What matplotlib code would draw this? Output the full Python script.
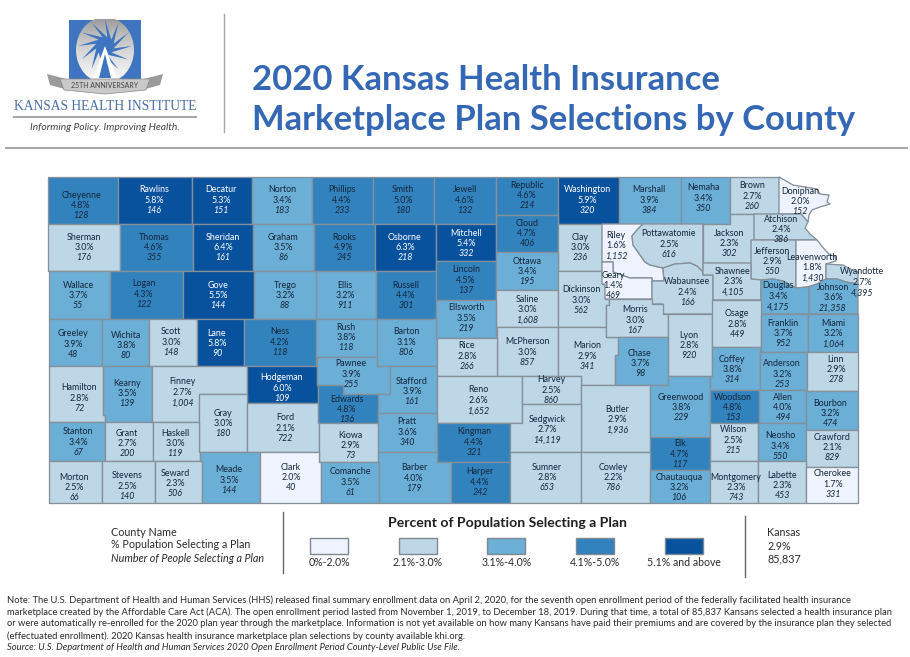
# -*- coding: UTF-8 -*-
import numpy as np
import matplotlib
matplotlib.use('Agg')
import matplotlib.pyplot as plt
from matplotlib.collections import PolyCollection
from matplotlib.patches import Ellipse, Polygon, Rectangle

plt.rcParams['font.family'] = ['Lato', 'DejaVu Sans']

# county data
counties = ['Cheyenne', 'Rawlins', 'Decatur', 'Norton', 'Phillips', 'Smith', 'Jewell', 'Republic', 'Washington',
            'Marshall', 'Nemaha', 'Brown', 'Doniphan', 'Sherman', 'Thomas', 'Sheridan', 'Graham', 'Rooks', 'Osborne',
            'Mitchell', 'Cloud', 'Clay', 'Riley', 'Pottawatomie', 'Jackson', 'Atchison', 'Jefferson', 'Leavenworth',
            'Wyandotte', 'Wallace', 'Logan', 'Gove', 'Trego', 'Ellis', 'Russell', 'Lincoln', 'Ottawa', 'Saline',
            'Dickinson', 'Geary', 'Wabaunsee', 'Shawnee', 'Douglas', 'Johnson', 'Greeley', 'Wichita', 'Scott', 'Lane',
            'Ness', 'Rush', 'Barton', 'Ellsworth', 'McPherson', 'Marion', 'Morris', 'Lyon', 'Osage', 'Franklin',
            'Miami', 'Hamilton', 'Kearny', 'Finney', 'Hodgeman', 'Pawnee', 'Stafford', 'Rice', 'Reno', 'Harvey',
            'Chase', 'Butler', 'Greenwood', 'Coffey', 'Anderson', 'Linn', 'Gray', 'Ford', 'Edwards', 'Kiowa', 'Pratt',
            'Kingman', 'Sedgwick', 'Woodson', 'Allen', 'Bourbon', 'Wilson', 'Neosho', 'Crawford', 'Elk', 'Stanton',
            'Grant', 'Haskell', 'Morton', 'Stevens', 'Seward', 'Meade', 'Clark', 'Comanche', 'Barber', 'Harper',
            'Sumner', 'Cowley', 'Chautauqua', 'Montgomery', 'Labette', 'Cherokee']
percents = [4.8, 5.8, 5.3, 3.4, 4.4, 5.0, 4.6, 4.6, 5.9,
            3.9, 3.4, 2.7, 2.0, 3.0, 4.6, 6.4, 3.5, 4.9, 6.3,
            5.4, 4.7, 3.0, 1.6, 2.5, 2.3, 2.4, 2.9, 1.8,
            2.7, 3.7, 4.3, 5.5, 3.2, 3.2, 4.4, 4.5, 3.4, 3.0,
            3.0, 1.4, 2.4, 2.3, 3.4, 3.6, 3.9, 3.8, 3.0, 5.8,
            4.2, 3.8, 3.1, 3.5, 3.0, 2.9, 3.0, 2.8, 2.8, 3.7,
            3.2, 2.8, 3.5, 2.7, 6.0, 3.9, 3.9, 2.8, 2.6, 2.5,
            3.7, 2.9, 3.8, 3.8, 3.2, 2.9, 3.0, 2.1, 4.8, 2.9, 3.6,
            4.4, 2.7, 4.8, 4.0, 3.2, 2.5, 3.4, 2.1, 4.7, 3.4,
            2.7, 3.0, 2.5, 2.5, 2.3, 3.5, 2.0, 3.5, 4.0, 4.4,
            2.8, 2.2, 3.2, 2.3, 2.3, 1.7]
people = [128, 146, 151, 183, 233, 180, 132, 214, 320,
          384, 350, 260, 152, 176, 355, 161, 86, 245, 218,
          332, 406, 236, 1152, 616, 302, 386, 550, 1430,
          4395, 55, 122, 144, 88, 911, 301, 137, 195, 1608,
          562, 469, 166, 4105, 4175, 21358, 48, 80, 148, 90,
          118, 118, 806, 219, 857, 341, 167, 920, 449, 952,
          1064, 72, 139, 1004, 109, 255, 161, 266, 1652, 860,
          98, 1936, 229, 314, 253, 278, 180, 722, 136, 73, 340,
          321, 14119, 153, 494, 474, 215, 550, 829, 117, 67,
          200, 119, 66, 140, 506, 144, 40, 61, 179, 242,
          653, 786, 106, 743, 453, 331]

bin_edges = [2.05, 3.05, 4.05, 5.05]
bin_colors = ['#eff3ff', '#bdd7e7', '#6baed6', '#3182bd', '#08519c']
bin_labels = ['0%-2.0%', '2.1%-3.0%', '3.1%-4.0%', '4.1%-5.0%', '5.1% and above']
state_summary = ['Kansas', '2.9%', '85,837']
key_lines = ['County Name', '% Population Selecting a Plan', 'Number of People Selecting a Plan']

title_lines = ['2020 Kansas Health Insurance', 'Marketplace Plan Selections by County']
note_lines = [
    'Note: The U.S. Department of Health and Human Services (HHS) released final summary enrollment data on April 2, 2020, for the seventh open enrollment period of the federally facilitated health insurance',
    'marketplace created by the Affordable Care Act (ACA). The open enrollment period lasted from November 1, 2019, to December 18, 2019. During that time, a total of 85,837 Kansans selected a health insurance plan',
    'or were automatically re-enrolled for the 2020 plan year through the marketplace. Information is not yet available on how many Kansans have paid their premiums and are covered by the insurance plan they selected',
    '(effectuated enrollment). 2020 Kansas health insurance marketplace plan selections by county available khi.org.',
]
source_line = 'Source: U.S. Department of Health and Human Services 2020 Open Enrollment Period County-Level Public Use File.'


def box(x0, y0, x1, y1):
    return [(x0, y0), (x1, y0), (x1, y1), (x0, y1)]


# county outlines, in image pixels
outlines = {
    'Cheyenne': box(48, 177, 118, 224), 'Rawlins': box(118, 177, 192, 224), 'Decatur': box(192, 177, 252, 224),
    'Norton': box(252, 177, 312, 224), 'Phillips': box(312, 177, 373, 224), 'Smith': box(373, 177, 434, 224),
    'Jewell': box(434, 177, 496, 224), 'Republic': box(496, 177, 558, 215), 'Washington': box(558, 177, 619, 224),
    'Marshall': box(619, 177, 681, 224), 'Nemaha': box(681, 177, 730, 224), 'Brown': box(730, 177, 779, 214),
    'Doniphan': [(779, 177), (793, 185), (805, 187), (817, 189), (820, 194), (829, 195), (827, 202), (830, 204),
                 (820, 207), (812, 210), (809, 215), (808, 222), (801, 214), (779, 214)],
    'Sherman': box(48, 224, 120, 271), 'Thomas': box(120, 224, 193, 271), 'Sheridan': box(193, 224, 253, 271),
    'Graham': box(253, 224, 314, 271), 'Rooks': box(314, 224, 375, 271), 'Osborne': box(375, 224, 436, 271),
    'Mitchell': box(436, 224, 496, 261),
    'Cloud': [(496, 215), (558, 215), (558, 252), (496, 252)],
    'Clay': box(558, 224, 602, 271),
    'Riley': [(602, 224), (643, 224), (637, 230), (632, 236), (633, 245), (645, 262), (650, 265), (663, 268),
              (664, 281), (652, 281), (652, 278), (630, 278), (613, 272), (613, 262), (602, 262)],
    'Pottawatomie': [(643, 224), (703, 224), (703, 272), (697, 266), (690, 263), (675, 264), (663, 268), (650, 265),
                     (645, 262), (633, 245), (632, 236), (637, 230)],
    'Jackson': [(703, 224), (730, 224), (730, 214), (754, 214), (754, 240), (751, 240), (751, 263), (703, 263)],
    'Atchison': [(754, 214), (801, 214), (808, 222), (805, 228), (810, 234), (817, 240), (754, 240)],
    'Jefferson': [(751, 240), (796, 240), (796, 288), (783, 281), (773, 279), (761, 280), (751, 279)],
    'Leavenworth': [(796, 240), (817, 240), (825, 250), (830, 255), (835, 256), (836, 261), (826, 264), (826, 279),
                    (817, 284), (807, 287), (796, 288)],
    'Wyandotte': [(826, 264), (843, 265), (852, 270), (858, 272), (858, 284), (846, 282), (837, 279), (826, 279)],
    'Wallace': box(49, 271, 110, 319), 'Logan': box(110, 271, 183, 319), 'Gove': box(183, 271, 254, 319),
    'Trego': box(254, 271, 316, 319), 'Ellis': box(316, 271, 376, 319), 'Russell': box(376, 271, 436, 319),
    'Lincoln': box(436, 261, 496, 300), 'Ottawa': box(496, 252, 558, 290), 'Saline': box(496, 290, 558, 327),
    'Dickinson': [(558, 271), (602, 271), (602, 284), (605, 284), (605, 299), (609, 299), (609, 305), (606, 305),
                  (606, 327), (558, 327)],
    'Geary': [(602, 262), (613, 262), (613, 272), (630, 278), (652, 278), (652, 299), (605, 299), (605, 284),
              (602, 284)],
    'Wabaunsee': [(652, 281), (664, 281), (663, 268), (675, 264), (690, 263), (697, 266), (703, 272), (703, 275),
                  (713, 275), (713, 314), (663, 314), (663, 304), (652, 304)],
    'Shawnee': [(703, 263), (751, 263), (751, 279), (761, 280), (761, 300), (713, 300), (713, 275), (703, 275)],
    'Douglas': [(761, 280), (773, 279), (783, 281), (796, 288), (809, 287), (809, 314), (761, 314)],
    'Johnson': [(809, 287), (817, 284), (826, 279), (837, 279), (846, 282), (858, 284), (858, 314), (809, 314)],
    'Greeley': box(49, 319, 102, 366), 'Wichita': box(102, 319, 149, 366), 'Scott': box(149, 319, 197, 366),
    'Lane': box(197, 319, 244, 366), 'Ness': box(244, 319, 316, 366), 'Rush': box(316, 319, 377, 357),
    'Barton': [(377, 319), (436, 319), (436, 338), (437, 338), (437, 366), (377, 366)],
    'Ellsworth': box(436, 300, 496, 338),
    'McPherson': box(497, 327, 558, 376),
    'Marion': [(558, 327), (606, 327), (606, 337), (618, 337), (618, 355), (615, 355), (615, 385), (581, 385),
               (581, 376), (558, 376)],
    'Morris': [(609, 299), (652, 299), (652, 304), (663, 304), (663, 314), (668, 314), (668, 337), (606, 337),
               (606, 305), (609, 305)],
    'Lyon': box(668, 314, 712, 376), 'Osage': box(712, 300, 761, 347), 'Franklin': box(761, 314, 808, 352),
    'Miami': box(808, 314, 858, 352),
    'Hamilton': [(49, 366), (103, 366), (103, 415), (105, 415), (105, 422), (49, 422)],
    'Kearny': [(103, 366), (152, 366), (152, 422), (105, 422), (105, 415), (103, 415)],
    'Finney': [(152, 366), (247, 366), (247, 394), (199, 394), (199, 422), (152, 422)],
    'Hodgeman': [(247, 366), (317, 366), (317, 385), (318, 385), (318, 403), (247, 403)],
    'Pawnee': [(317, 357), (377, 357), (377, 366), (390, 366), (390, 394), (343, 394), (343, 385), (317, 385)],
    'Stafford': [(390, 366), (437, 366), (437, 413), (378, 413), (378, 394), (390, 394)],
    'Rice': box(437, 338, 497, 376), 'Reno': box(437, 376, 522, 423), 'Harvey': box(522, 376, 581, 404),
    'Chase': [(618, 337), (668, 337), (668, 385), (615, 385), (615, 355), (618, 355)],
    'Butler': box(581, 385, 650, 452),
    'Greenwood': [(668, 376), (710, 376), (710, 437), (650, 437), (650, 385), (668, 385)],
    'Coffey': [(712, 347), (760, 347), (760, 390), (710, 390), (710, 376), (712, 376)],
    'Anderson': box(760, 352, 807, 390), 'Linn': box(807, 352, 858, 391),
    'Gray': box(199, 394, 247, 452),
    'Ford': [(247, 403), (318, 403), (318, 423), (319, 423), (319, 452), (247, 452)],
    'Edwards': [(318, 385), (343, 385), (343, 394), (378, 394), (378, 423), (318, 423)],
    'Kiowa': box(319, 423, 378, 462), 'Pratt': box(378, 413, 437, 452), 'Kingman': box(437, 423, 510, 462),
    'Sedgwick': [(522, 404), (581, 404), (581, 452), (510, 452), (510, 423), (522, 423)],
    'Woodson': box(710, 390, 759, 423), 'Allen': box(759, 390, 806, 423), 'Bourbon': box(806, 391, 858, 430),
    'Wilson': box(710, 423, 758, 461), 'Neosho': box(758, 423, 806, 461), 'Crawford': box(806, 430, 858, 467),
    'Elk': box(650, 437, 710, 470),
    'Stanton': box(49, 422, 105, 461), 'Grant': box(105, 422, 153, 461),
    'Haskell': [(153, 422), (199, 422), (199, 452), (200, 452), (200, 461), (153, 461)],
    'Morton': box(49, 461, 102, 503), 'Stevens': box(102, 461, 155, 503), 'Seward': box(155, 461, 202, 503),
    'Meade': [(200, 452), (260, 452), (260, 503), (202, 503), (202, 461), (200, 461)],
    'Clark': [(260, 452), (319, 452), (319, 462), (321, 462), (321, 503), (260, 503)],
    'Comanche': box(321, 462, 379, 503),
    'Barber': [(378, 452), (437, 452), (437, 462), (451, 462), (451, 503), (379, 503), (379, 462), (378, 462)],
    'Harper': box(451, 462, 510, 503), 'Sumner': box(510, 452, 581, 503), 'Cowley': box(581, 452, 650, 503),
    'Chautauqua': box(650, 470, 710, 503), 'Montgomery': box(710, 461, 758, 503), 'Labette': box(758, 461, 806, 503),
    'Cherokee': box(806, 467, 858, 503),
}

# where each three line label starts: centre x, y of the county name
label_pos = {
    'Cheyenne': (81, 195), 'Rawlins': (154, 190), 'Decatur': (221, 190), 'Norton': (282, 190), 'Phillips': (342, 190),
    'Smith': (403, 190), 'Jewell': (465, 190), 'Republic': (527, 185), 'Washington': (587, 190),
    'Marshall': (649, 190), 'Nemaha': (703, 188), 'Brown': (752, 186), 'Doniphan': (800, 191),
    'Sherman': (84, 237), 'Thomas': (154, 237), 'Sheridan': (223, 237), 'Graham': (283, 237), 'Rooks': (344, 237),
    'Osborne': (405, 237), 'Mitchell': (466, 233), 'Cloud': (527, 223), 'Clay': (580, 237), 'Riley': (616, 235),
    'Pottawatomie': (669, 234), 'Jackson': (729, 233), 'Atchison': (781, 219), 'Jefferson': (772, 251),
    'Leavenworth': (812, 257), 'Wyandotte': (862, 272), 'Wallace': (78, 285), 'Logan': (144, 284), 'Gove': (218, 285),
    'Trego': (285, 285), 'Ellis': (345, 285), 'Russell': (406, 285), 'Lincoln': (466, 270), 'Ottawa': (527, 261),
    'Saline': (527, 299), 'Dickinson': (581, 290), 'Geary': (613, 275), 'Wabaunsee': (687, 282), 'Shawnee': (733, 271),
    'Douglas': (778, 286), 'Johnson': (833, 287), 'Greeley': (73, 334), 'Wichita': (126, 335), 'Scott': (171, 332),
    'Lane': (217, 333), 'Ness': (280, 332), 'Rush': (346, 327), 'Barton': (406, 332), 'Ellsworth': (466, 308),
    'McPherson': (527, 342), 'Marion': (587, 346), 'Morris': (635, 310), 'Lyon': (689, 335), 'Osage': (737, 314),
    'Franklin': (783, 323), 'Miami': (833, 323), 'Hamilton': (79, 388), 'Kearny': (127, 383), 'Finney': (182, 382),
    'Hodgeman': (282, 378), 'Pawnee': (351, 364), 'Stafford': (412, 381), 'Rice': (467, 346), 'Reno': (478, 390),
    'Harvey': (551, 380), 'Chase': (640, 353), 'Butler': (617, 409), 'Greenwood': (681, 397), 'Coffey': (732, 359),
    'Anderson': (782, 364), 'Linn': (836, 359), 'Gray': (223, 413), 'Ford': (285, 418), 'Edwards': (347, 399),
    'Kiowa': (350, 435), 'Pratt': (407, 422), 'Kingman': (474, 432), 'Sedgwick': (547, 419), 'Woodson': (733, 397),
    'Allen': (783, 397), 'Bourbon': (830, 403), 'Wilson': (733, 430), 'Neosho': (780, 436), 'Crawford': (832, 437),
    'Elk': (680, 444), 'Stanton': (78, 432), 'Grant': (127, 433), 'Haskell': (175, 433), 'Morton': (74, 477),
    'Stevens': (127, 476), 'Seward': (175, 473), 'Meade': (229, 470), 'Clark': (291, 467), 'Comanche': (350, 472),
    'Barber': (414, 468), 'Harper': (480, 472), 'Sumner': (547, 467), 'Cowley': (613, 467), 'Chautauqua': (679, 477),
    'Montgomery': (736, 477), 'Labette': (782, 475), 'Cherokee': (833, 474),
}

title_blue = '#3568b4'
ink = '#2b2b2b'
navy = '#14263c'
rule = '#a8a8a8'

fig = plt.figure(figsize=(9.1, 6.57), dpi=100)
ax = fig.add_axes([0, 0, 1, 1])
ax.set_xlim(0, 910)
ax.set_ylim(657, 0)
ax.axis('off')

# --- logo ---
ax.add_patch(Rectangle((69, 20), 72, 62, fc='#3f74c0', ec='none', zorder=1))
grad = np.linspace(0, 1, 64).reshape(-1, 1)
disc = ax.imshow(grad, cmap='Greys_r', vmin=-1.2, vmax=1.1, extent=(76, 134, 84, 19), aspect='auto', zorder=2)
disc.set_clip_path(Ellipse((105, 50), 58, 66, transform=ax.transData))
ax.set_xlim(0, 910)
ax.set_ylim(657, 0)
ray_ang = np.deg2rad(np.arange(0, 360, 30) + 90)
star = []
for a in ray_ang:
    star.append((105 + 27 * np.cos(a), 46 - 27 * np.sin(a)))
    star.append((105 + 9 * np.cos(a - np.pi / 12), 46 - 9 * np.sin(a - np.pi / 12)))
ax.add_patch(Polygon(star, fc='#3f74c0', ec='none', zorder=3))
ax.add_patch(Polygon([(105, 46), (93, 78), (117, 78)], fc='white', ec='none', zorder=3))
ax.add_patch(Polygon([(105, 54), (99, 78), (111, 78)], fc='#3f74c0', ec='none', zorder=3))
ax.add_patch(Polygon([(47, 74), (70, 80), (68, 90), (50, 85)], fc='#9a9a9a', ec='none', zorder=3))
ax.add_patch(Polygon([(163, 74), (140, 80), (142, 90), (160, 85)], fc='#9a9a9a', ec='none', zorder=3))
ax.add_patch(Polygon([(60, 79), (150, 79), (146, 90), (105, 94), (64, 90)], fc='#c9c9c9', ec='#8a8a8a', lw=0.5, zorder=4))
ax.text(105, 86, '25TH ANNIVERSARY', fontsize=5, color='#444444', ha='center', va='center', zorder=5)
ax.text(105, 107, 'KANSAS HEALTH INSTITUTE', family='Liberation Serif', fontsize=9.75, color='#4a6fa5',
        ha='center', va='center')
ax.plot([14, 196], [117, 117], color=rule, lw=1.5)
ax.text(105, 127, 'Informing Policy. Improving Health.', fontsize=7.4, style='italic', color='#444444',
        ha='center', va='center')

# --- header ---
ax.plot([224, 224], [14, 132], color=rule, lw=1)
ax.plot([6, 907], [148, 148], color=rule, lw=1.5)
for line, y in zip(title_lines, [80, 120]):
    ax.text(252, y, line, fontsize=24.9, fontweight='bold', color=title_blue, ha='left', va='center')

# --- map ---
bins = np.digitize(percents, bin_edges)
polys = [outlines[c] for c in counties]
ax.add_collection(PolyCollection(polys, facecolors=[bin_colors[b] for b in bins], edgecolors='#85909a',
                                 linewidths=0.95, zorder=2))
for c, pct, n, b in zip(counties, percents, people, bins):
    x, y = label_pos[c]
    col = 'white' if b == 4 else navy
    ax.text(x, y, c, fontsize=6.4, color=col, ha='center', va='center', zorder=3)
    ax.text(x, y + 10.4, f'{pct:.1f}%', fontsize=6.4, color=col, ha='center', va='center', zorder=3)
    ax.text(x, y + 20.8, f'{n:,}', fontsize=6.4, style='italic', color=col, ha='center', va='center', zorder=3)

# --- legend ---
for line, y, st in zip(key_lines, [533, 545, 559], ['normal', 'normal', 'italic']):
    ax.text(111, y, line, fontsize=7.75, style=st, color=ink, ha='left', va='center')
ax.plot([283, 283], [512, 573], color='#666666', lw=1)
ax.plot([745, 745], [516, 577], color='#666666', lw=1)
ax.text(507, 523, 'Percent of Population Selecting a Plan', fontsize=10.1, fontweight='bold', color='#1f1f1f',
        ha='center', va='center')
for i, (colr, lab) in enumerate(zip(bin_colors, bin_labels)):
    x0 = 310 + i * 88.7
    ax.add_patch(Rectangle((x0, 538), 38, 16, fc=colr, ec='#7d8890', lw=1))
    ax.text(x0 + 19, 562.5, lab, fontsize=7.6, color=ink, ha='center', va='center')
for line, y in zip(state_summary, [533, 546, 559]):
    ax.text(767, y, line, fontsize=7.75, color=ink, ha='left', va='center')

# --- footnote ---
for line, y in zip(note_lines, [600, 612, 624, 636]):
    ax.text(7, y, line, fontsize=6.72, color=ink, ha='left', va='center')
ax.text(7, 648, source_line, fontsize=6.72, style='italic', color=ink, ha='left', va='center')

fig.savefig('out.png', dpi=100)
